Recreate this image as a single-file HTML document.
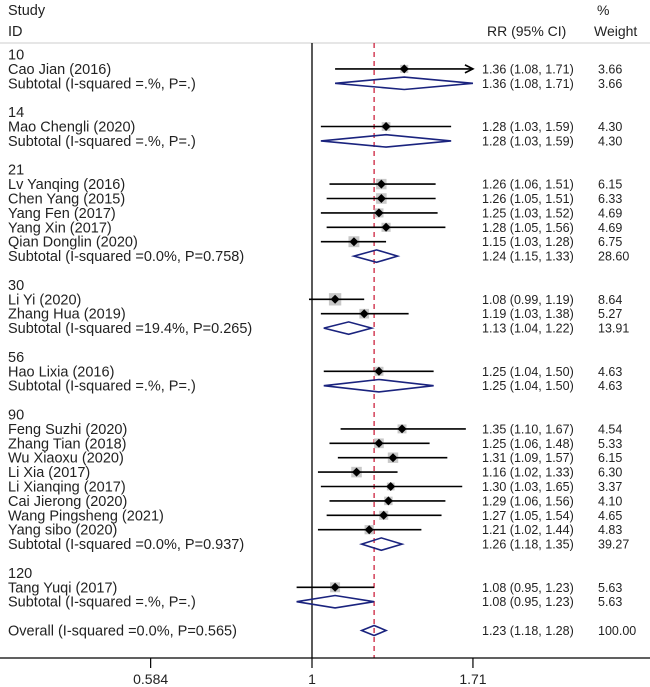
<!DOCTYPE html>
<html><head><meta charset="utf-8"><style>
html,body{margin:0;padding:0;background:#fff;}
svg{display:block;font-family:"Liberation Sans",Arial,sans-serif;}
</style></head><body>
<svg id="chart" width="650" height="687" viewBox="0 0 650 687" xmlns="http://www.w3.org/2000/svg">
<text x="8" y="15" font-size="14.5" fill="#222">Study</text>
<text x="8" y="36" font-size="14.5" fill="#222">ID</text>
<text x="487" y="36" font-size="14" fill="#222">RR (95% CI)</text>
<text x="597" y="15" font-size="14" fill="#222">%</text>
<text x="594" y="36" font-size="14" fill="#222">Weight</text>
<line x1="0" y1="43" x2="650" y2="43" stroke="#ccc" stroke-width="1"/>
<g id="marks"></g>
</svg>
<script>
// rows: type g=group label, s=study, t=subtotal, o=overall, b=blank
const rowTypes = ["g","s","t","b","g","s","t","b","g","s","s","s","s","s","t","b","g","s","s","t","b","g","s","t","b","g","s","s","s","s","s","s","s","s","t","b","g","s","t","b","o"];
const rowLabels = ["10","Cao Jian (2016)","Subtotal (I-squared =.%, P=.)","","14","Mao Chengli (2020)","Subtotal (I-squared =.%, P=.)","","21","Lv Yanqing (2016)","Chen Yang (2015)","Yang Fen (2017)","Yang Xin (2017)","Qian Donglin (2020)","Subtotal (I-squared =0.0%, P=0.758)","","30","Li Yi (2020)","Zhang Hua (2019)","Subtotal (I-squared =19.4%, P=0.265)","","56","Hao Lixia (2016)","Subtotal (I-squared =.%, P=.)","","90","Feng Suzhi (2020)","Zhang Tian (2018)","Wu Xiaoxu (2020)","Li Xia (2017)","Li Xianqing (2017)","Cai Jierong (2020)","Wang Pingsheng (2021)","Yang sibo (2020)","Subtotal (I-squared =0.0%, P=0.937)","","120","Tang Yuqi (2017)","Subtotal (I-squared =.%, P=.)","","Overall (I-squared =0.0%, P=0.565)"];
const rrValues = [null,1.36,1.36,null,null,1.28,1.28,null,null,1.26,1.26,1.25,1.28,1.15,1.24,null,null,1.08,1.19,1.13,null,null,1.25,1.25,null,null,1.35,1.25,1.31,1.16,1.30,1.29,1.27,1.21,1.26,null,null,1.08,1.08,null,1.23];
const ciLow = [null,1.08,1.08,null,null,1.03,1.03,null,null,1.06,1.05,1.03,1.05,1.03,1.15,null,null,0.99,1.03,1.04,null,null,1.04,1.04,null,null,1.10,1.06,1.09,1.02,1.03,1.06,1.05,1.02,1.18,null,null,0.95,0.95,null,1.18];
const ciHigh = [null,1.71,1.71,null,null,1.59,1.59,null,null,1.51,1.51,1.52,1.56,1.28,1.33,null,null,1.19,1.38,1.22,null,null,1.50,1.50,null,null,1.67,1.48,1.57,1.33,1.65,1.56,1.54,1.44,1.35,null,null,1.23,1.23,null,1.28];
const weights = [null,3.66,3.66,null,null,4.30,4.30,null,null,6.15,6.33,4.69,4.69,6.75,28.60,null,null,8.64,5.27,13.91,null,null,4.63,4.63,null,null,4.54,5.33,6.15,6.30,3.37,4.10,4.65,4.83,39.27,null,null,5.63,5.63,null,100.00];
const tickValues = [0.584, 1, 1.71];
const tickLabels = ["0.584","1","1.71"];
const overallRR = 1.23;

const NS = "http://www.w3.org/2000/svg";
const g = document.getElementById("marks");
const xOf = v => 312 + 300 * Math.log(v);
const yOf = i => 54.5 + i * 14.4;
const xMax = xOf(1.71);
function mk(tag, attrs, parent){ const e=document.createElementNS(NS,tag); for(const k in attrs) e.setAttribute(k,attrs[k]); (parent||g).appendChild(e); return e; }

let l = mk("line",{x1:312,y1:43,x2:312,y2:658,stroke:"#000","stroke-width":1.3});


l = mk("line",{x1:xOf(overallRR),y1:43,x2:xOf(overallRR),y2:658,stroke:"#c8102e","stroke-width":1.2,"stroke-dasharray":"5,4"});


l = mk("line",{x1:0,y1:658,x2:650,y2:658,stroke:"#000","stroke-width":1.2});


tickValues.forEach((v,k)=>{
  const t = mk("line",{x1:xOf(v),y1:658,x2:xOf(v),y2:668,stroke:"#000","stroke-width":1.2});
  
  
  const tx = mk("text",{x:xOf(v),y:684,"font-size":14,"text-anchor":"middle",fill:"#222"});
  tx.textContent = tickLabels[k];
  
  
});

rowTypes.forEach((tp,i)=>{
  const y = yOf(i);
  if (tp==="b") return;
  const lab = mk("text",{x:8,y:y+5,"font-size":14.5,fill:"#222"});
  lab.textContent = rowLabels[i];
  
  
  if (tp==="g") return;
  const rr=rrValues[i], lo=ciLow[i], hi=ciHigh[i], w=weights[i];
  const ciTxt = mk("text",{x:482,y:y+4.5,"font-size":12.5,fill:"#222"});
  ciTxt.textContent = rr.toFixed(2)+" ("+lo.toFixed(2)+", "+hi.toFixed(2)+")";
  
  
  const wt = mk("text",{x:598,y:y+4.5,"font-size":12.5,fill:"#222"});
  wt.textContent = w.toFixed(2);
  
  
  const x0=xOf(lo), x1=Math.min(xOf(hi),xMax), xc=xOf(rr);
  if (tp==="s") {
    const s = Math.sqrt(w)*4.2;
    const box = mk("rect",{x:xc-s/2,y:y-s/2,width:s,height:s,fill:"#c8c8c8"});
    
    
    const ci = mk("line",{x1:x0,y1:y,x2:x1,y2:y,stroke:"#000","stroke-width":1.6});
    
    
    if (xOf(hi) >= xMax-0.5) {
      const ar = mk("path",{d:`M${x1-8},${y-4} L${x1},${y} L${x1-8},${y+4}`,fill:"none",stroke:"#000","stroke-width":1.6});
      
      
    }
    const pt = mk("path",{d:`M${xc},${y-4.5} L${xc+4.5},${y} L${xc},${y+4.5} L${xc-4.5},${y} Z`,fill:"#000"});
    
    
  } else {
    const h = tp==="o" ? 5 : 6.2;
    const d = mk("path",{d:`M${x0},${y} L${xc},${y-h} L${x1},${y} L${xc},${y+h} Z`,fill:"none",stroke:"#1a237e","stroke-width":1.6});
    
    
  }
});
</script>
</body></html>
